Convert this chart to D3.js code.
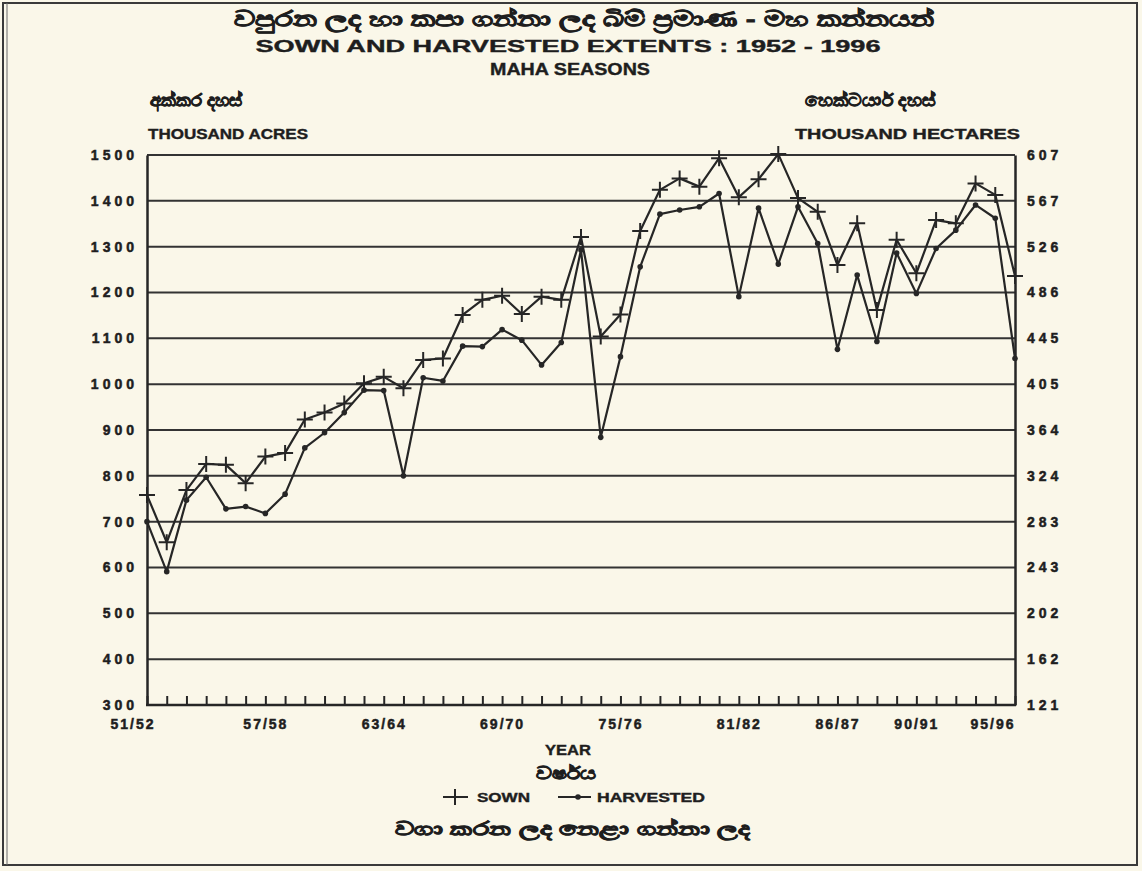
<!DOCTYPE html>
<html>
<head>
<meta charset="utf-8">
<script src="https://cdn.jsdelivr.net/npm/d3@7"></script>
<style>
  body { margin: 0; background: #faf7e9; }
  svg { display: block; }
  .lbl { font-family: "Liberation Sans", Arial, sans-serif; font-weight: bold; fill: #1e1e1e; stroke: #1e1e1e; stroke-width: 0.4px; }
  .tick text { font-family: "Liberation Sans", Arial, sans-serif; font-weight: bold; fill: #1e1e1e; stroke: #1e1e1e; stroke-width: 0.5px; font-size: 14px; letter-spacing: 4px; }
</style>
</head>
<body>
<div id="chart"></div>
<script>
// seasons (maha), one per year
var seasons = ["51/52","52/53","53/54","54/55","55/56","56/57","57/58","58/59","59/60","60/61",
               "61/62","62/63","63/64","64/65","65/66","66/67","67/68","68/69","69/70","70/71",
               "71/72","72/73","73/74","74/75","75/76","76/77","77/78","78/79","79/80","80/81",
               "81/82","82/83","83/84","84/85","85/86","86/87","87/88","88/89","89/90","90/91",
               "91/92","92/93","93/94","94/95","95/96"];
var shownSeasons = ["51/52","57/58","63/64","69/70","75/76","81/82","86/87","90/91","95/96"];

// thousand acres
var sown = [758, 655, 769, 826, 824, 784, 842, 850, 923, 938,
            958, 1002, 1016, 991, 1053, 1056, 1151, 1184, 1193, 1153,
            1191, 1184, 1321, 1104, 1152, 1334, 1424, 1449, 1431, 1493,
            1408, 1447, 1502, 1406, 1376, 1260, 1351, 1162, 1315, 1242,
            1358, 1351, 1438, 1413, 1236];
var harvested = [700, 591, 747, 797, 728, 733, 718, 760, 861, 894,
                 938, 987, 986, 800, 1014, 1007, 1083, 1082, 1119, 1096,
                 1042, 1091, 1293, 884, 1060, 1256, 1371, 1380, 1387, 1416,
                 1191, 1384, 1262, 1387, 1307, 1076, 1238, 1093, 1286, 1198,
                 1296, 1336, 1391, 1362, 1056];

var acreTicks = [300, 400, 500, 600, 700, 800, 900, 1000, 1100, 1200, 1300, 1400, 1500];
var hectareLabels = ["121", "162", "202", "243", "283", "324", "364", "405", "445", "486", "526", "567", "607"];

var W = 1142, H = 871;
var plot = {left: 147, right: 1015, top: 155, bottom: 705};
var ink = "#262626";

var svg = d3.select("#chart").append("svg")
    .attr("width", W)
    .attr("height", H);

svg.append("rect").attr("width", W).attr("height", H).attr("fill", "#faf7e9");

// scanned page frame
svg.append("rect")
    .attr("x", 3).attr("y", 3).attr("width", 1134).attr("height", 862)
    .attr("fill", "none").attr("stroke", "#3a3a3a").attr("stroke-width", 2);
svg.append("line")
    .attr("x1", 7).attr("x2", 7).attr("y1", 3).attr("y2", 865)
    .attr("stroke", "#6a6a6a").attr("stroke-width", 1);

var x = d3.scalePoint().domain(seasons).range([plot.left, plot.right]);
var y = d3.scaleLinear().domain([300, 1500]).range([plot.bottom, plot.top]);

// helper for the wide, heavy lettering of the original
function label(txt, px, py, size, anchor, len) {
    var t = svg.append("text")
        .attr("class", "lbl")
        .attr("x", px)
        .attr("y", py)
        .attr("font-size", size)
        .attr("text-anchor", anchor)
        .text(txt);
    if (len) t.attr("textLength", len).attr("lengthAdjust", "spacingAndGlyphs");
    return t;
}

// titles
label("වපුරන ලද හා කපා ගන්නා ලද බිම් ප්‍රමාණ - මහ කන්නයන්", 584, 26, 21, "middle", 700)
    .style("stroke-width", 0.8);
label("SOWN AND HARVESTED EXTENTS : 1952 - 1996", 568, 52, 17, "middle", 625);
label("MAHA SEASONS", 570, 75, 17, "middle", 160);

// unit captions
label("අක්කර දහස්", 150, 106, 17, "start", 92).style("stroke-width", 0.7);
label("THOUSAND ACRES", 148, 139, 15, "start", 160);
label("හෙක්ටයාර් දහස්", 805, 106, 17, "start", 130).style("stroke-width", 0.7);
label("THOUSAND HECTARES", 795, 139, 15, "start", 225);

// horizontal grid
svg.append("g")
    .selectAll("line")
    .data(acreTicks.filter(function(d) { return d > 300; }))
    .enter().append("line")
    .attr("x1", plot.left).attr("x2", plot.right)
    .attr("y1", function(d) { return y(d); })
    .attr("y2", function(d) { return y(d); })
    .attr("stroke", "#333").attr("stroke-width", 2);

// left axis (acres)
var left = svg.append("g")
    .attr("transform", "translate(" + plot.left + ",0)")
    .call(d3.axisLeft(y).tickValues(acreTicks).tickSize(0).tickPadding(9)
        .tickFormat(d3.format("d")));
left.select(".domain").attr("stroke", ink).attr("stroke-width", 2.5);

// right axis (hectares)
var right = svg.append("g")
    .attr("transform", "translate(" + plot.right + ",0)")
    .call(d3.axisRight(y).tickValues(acreTicks).tickSize(0).tickPadding(12)
        .tickFormat(function(d, i) { return hectareLabels[i]; }));
right.select(".domain").attr("stroke", ink).attr("stroke-width", 2.5);

// bottom: small upward ticks and season labels
var ticks = svg.append("g")
    .attr("transform", "translate(0," + plot.bottom + ")")
    .call(d3.axisTop(x).tickSize(9).tickFormat(""));
ticks.select(".domain").remove();
ticks.selectAll(".tick line").attr("stroke", ink).attr("stroke-width", 2);

svg.append("line")
    .attr("x1", plot.left - 1).attr("x2", plot.right + 1)
    .attr("y1", plot.bottom).attr("y2", plot.bottom)
    .attr("stroke", ink).attr("stroke-width", 2.5);

var bottom = svg.append("g")
    .attr("transform", "translate(0," + plot.bottom + ")")
    .call(d3.axisBottom(x).tickValues(shownSeasons).tickSize(0).tickPadding(14));
bottom.select(".domain").remove();
bottom.selectAll(".tick text")
    .style("letter-spacing", "2px")
    .attr("text-anchor", function(d, i) {
        if (i == 0) return "end";
        if (i == shownSeasons.length - 1) return "end";
        return "middle";
    })
    .attr("dx", function(d, i) { return i == 0 ? 8 : 0; });

label("YEAR", 568, 755, 15, "middle", 46);
label("වර්ෂය", 566, 779, 17, "middle", 60).style("stroke-width", 0.7);

// series lines
var line = d3.line()
    .x(function(d, i) { return x(seasons[i]); })
    .y(function(d) { return y(d); });

svg.append("path").datum(sown)
    .attr("d", line).attr("fill", "none")
    .attr("stroke", ink).attr("stroke-width", 2.2).attr("stroke-linejoin", "round");

svg.append("path").datum(harvested)
    .attr("d", line).attr("fill", "none")
    .attr("stroke", ink).attr("stroke-width", 2.2).attr("stroke-linejoin", "round");

// markers: + for sown, small dot for harvested
var cross = "M-8,0H8M0,-8V8";
svg.append("g").selectAll("path")
    .data(sown)
    .enter().append("path")
    .attr("d", cross)
    .attr("transform", function(d, i) { return "translate(" + x(seasons[i]) + "," + y(d) + ")"; })
    .attr("stroke", ink).attr("stroke-width", 2);

svg.append("g").selectAll("circle")
    .data(harvested)
    .enter().append("circle")
    .attr("cx", function(d, i) { return x(seasons[i]); })
    .attr("cy", function(d) { return y(d); })
    .attr("r", 2.8)
    .attr("fill", ink);

// legend
svg.append("path").attr("d", cross).attr("transform", "translate(455,797)")
    .attr("stroke", ink).attr("stroke-width", 2);
svg.append("line").attr("x1", 443).attr("x2", 468).attr("y1", 797).attr("y2", 797)
    .attr("stroke", ink).attr("stroke-width", 2);
label("SOWN", 477, 802, 13, "start", 53);

svg.append("line").attr("x1", 558).attr("x2", 591).attr("y1", 797).attr("y2", 797)
    .attr("stroke", ink).attr("stroke-width", 2);
svg.append("circle").attr("cx", 578).attr("cy", 797).attr("r", 2.8).attr("fill", ink);
label("HARVESTED", 597, 802, 13, "start", 108);

label("වගා කරන ලද  නෙළා ගන්නා ලද", 395, 835, 18, "start", 355)
    .style("stroke-width", 0.8);
</script>
</body>
</html>
